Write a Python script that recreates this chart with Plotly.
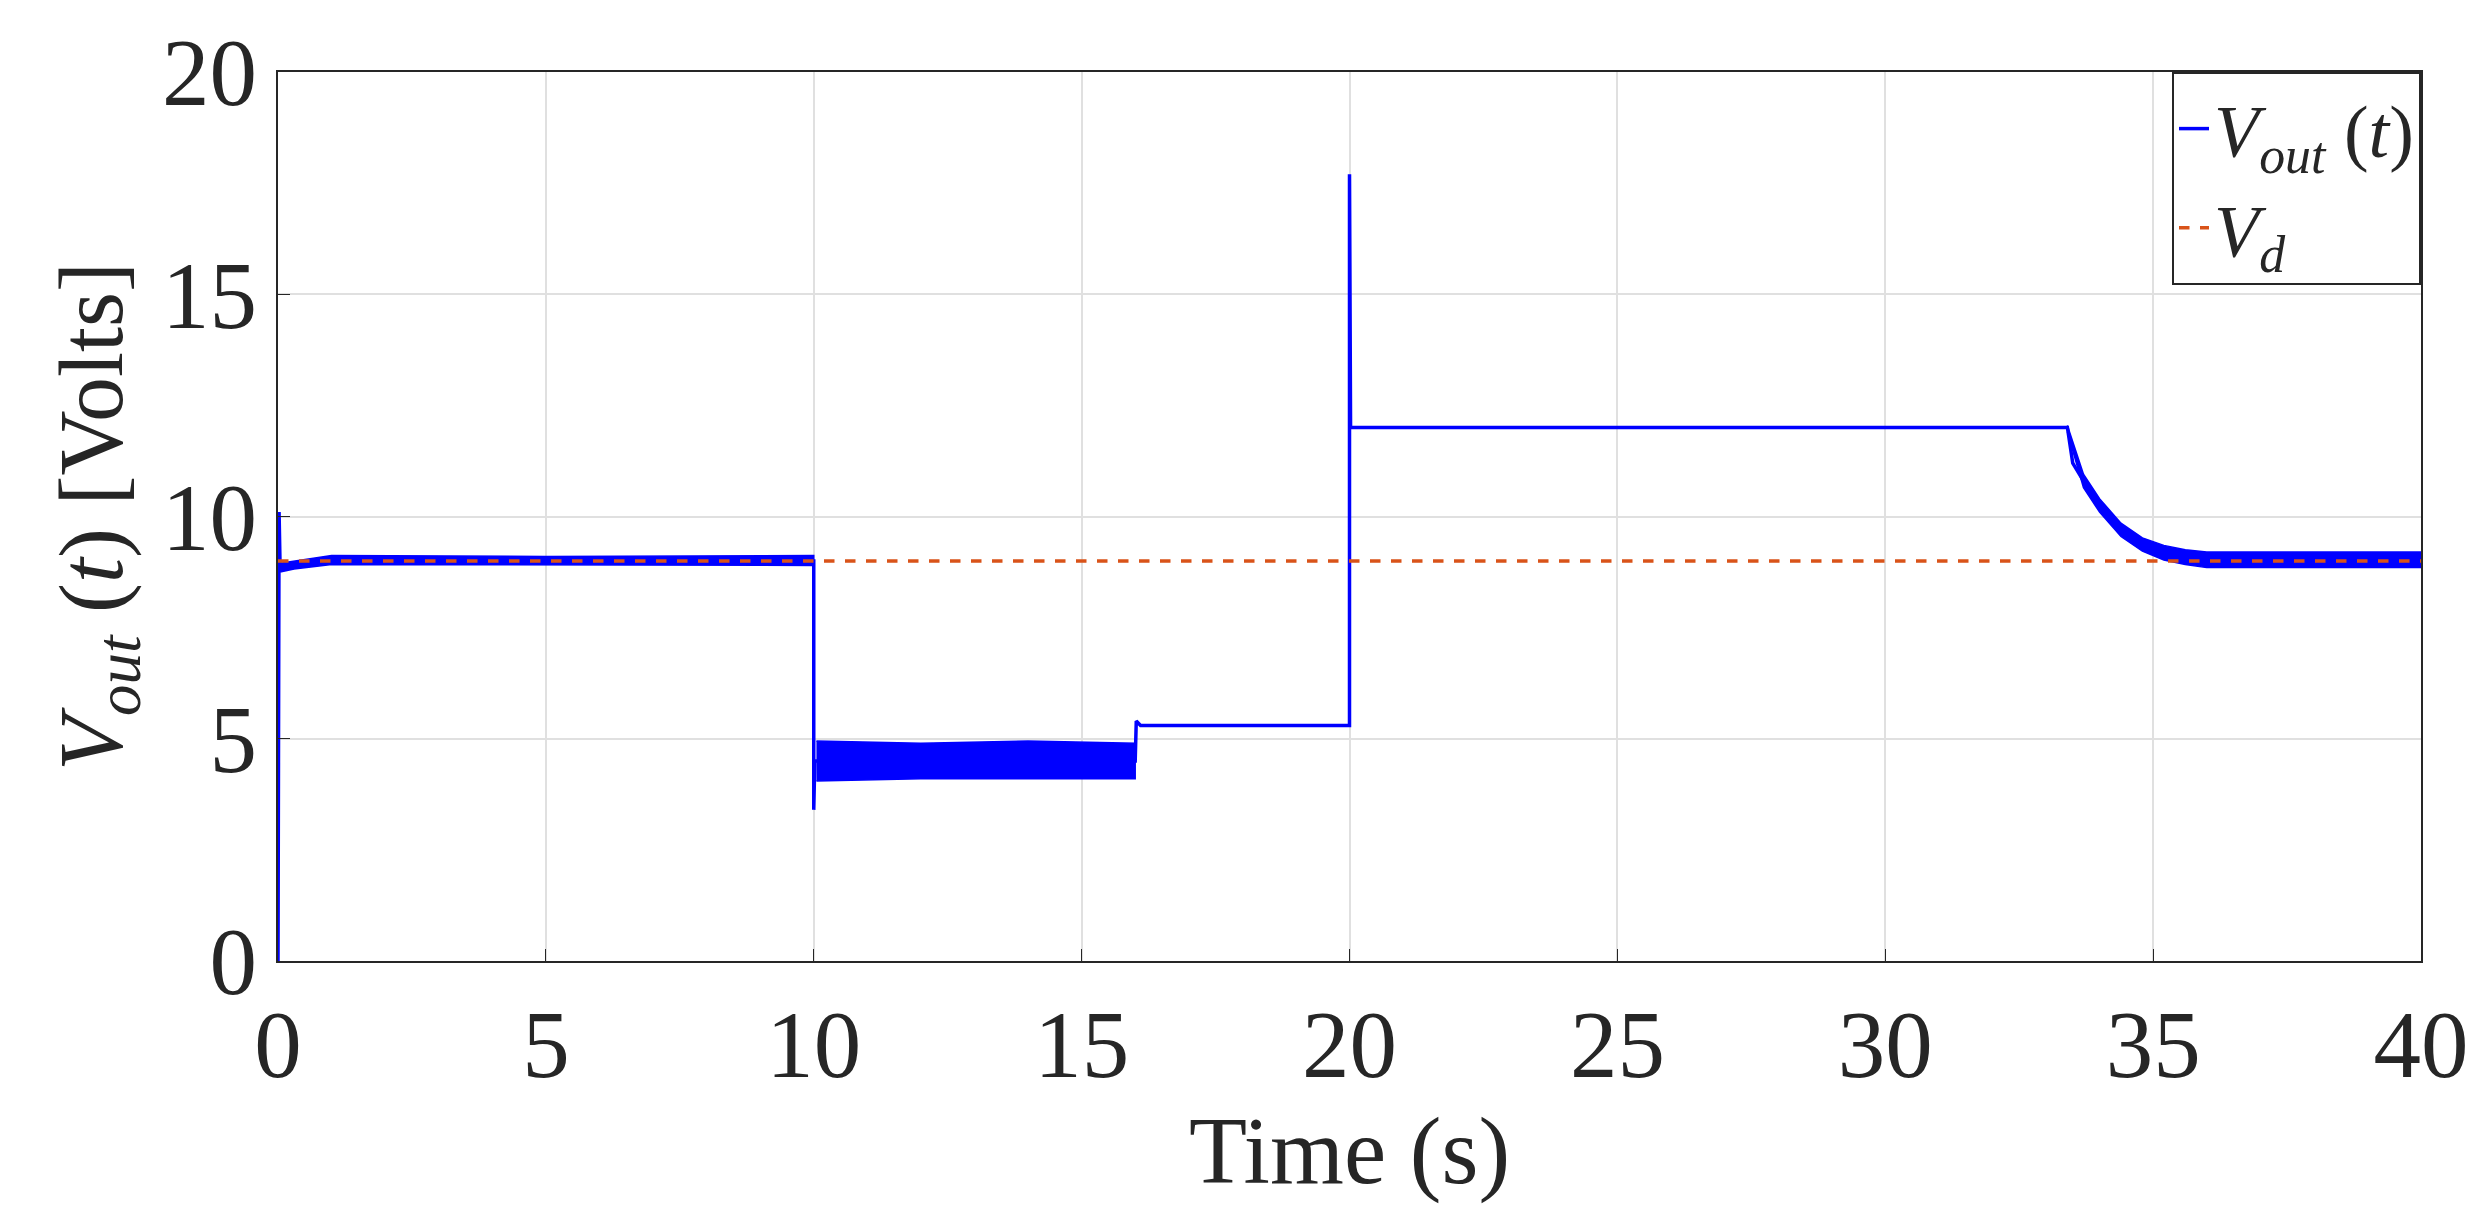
import plotly.graph_objects as go

# main response (clean portions), seconds / volts
t_main = [0, 0.0, 0.02, 0.04, 0.1, 0.3, 0.6, 1.0, 10.0, 10.0, 10.02, 10.05, 16.0, 16.02, 16.1, 20.0, 20.0, 20.02, 20.05, 33.4, 33.5, 33.7, 33.85, 34.0, 34.2, 34.4, 34.6, 34.8, 35.0, 35.3, 35.6, 36.0, 37.0, 40.0]
v_main = [0, 0.0, 10.1, 8.8, 8.85, 8.9, 8.95, 9.0, 9.0, 3.4, 4.5, 4.5, 4.5, 5.4, 5.3, 5.3, 17.7, 12.0, 12.0, 12.0, 11.2, 10.8, 10.5, 10.25, 9.95, 9.7, 9.5, 9.38, 9.28, 9.17, 9.1, 9.05, 9.0, 9.0]

# ripple envelopes (upper / lower) in noisy segments
t_band1 = [0.04, 0.3, 1.0, 5.0, 10.0]
up_band1 = [8.95, 9.0, 9.12, 9.1, 9.12]
lo_band1 = [8.75, 8.82, 8.92, 8.92, 8.9]
t_band2 = [10.05, 12.0, 14.0, 16.0]
up_band2 = [4.95, 4.9, 4.95, 4.9]
lo_band2 = [4.05, 4.1, 4.1, 4.1]
t_band3 = [33.4, 33.7, 34.0, 34.4, 34.8, 35.2, 35.6, 36.0, 40.0]
up_band3 = [12.05, 10.95, 10.4, 9.85, 9.52, 9.35, 9.25, 9.2, 9.2]
lo_band3 = [11.9, 10.65, 10.1, 9.55, 9.22, 9.02, 8.92, 8.85, 8.85]

t_ref = [0, 40]
v_ref = [9, 9]

blue = "#0000FF"
fig = go.Figure()
for tb, ub, lb in [(t_band1, up_band1, lo_band1), (t_band2, up_band2, lo_band2), (t_band3, up_band3, lo_band3)]:
    fig.add_trace(go.Scatter(x=tb + tb[::-1], y=ub + lb[::-1], fill="toself", fillcolor=blue,
                             line=dict(color=blue, width=1.5), mode="lines", showlegend=False, hoverinfo="skip"))
fig.add_trace(go.Scatter(x=t_main, y=v_main, mode="lines", line=dict(color=blue, width=3.5),
                         name="<i>V</i><sub><i>out</i></sub> (<i>t</i>)"))
fig.add_trace(go.Scatter(x=t_ref, y=v_ref, mode="lines", line=dict(color="#D95319", width=3.5, dash="dash"),
                         name="<i>V</i><sub><i>d</i></sub>"))

axis_common = dict(showline=True, linecolor="#262626", linewidth=2, mirror=True, showgrid=True,
                   gridcolor="#E0E0E0", gridwidth=1.5, ticks="inside", ticklen=12, tickcolor="#262626",
                   zeroline=False, tickfont=dict(family="Liberation Serif", size=95, color="#262626"))
fig.update_layout(
    width=2484, height=1211, paper_bgcolor="white", plot_bgcolor="white",
    margin=dict(l=270, r=71, t=52, b=258),
    font=dict(family="Liberation Serif", color="#262626"),
    xaxis=dict(range=[0, 40], tickvals=[0, 5, 10, 15, 20, 25, 30, 35, 40],
               title=dict(text="Time (s)", font=dict(size=95), standoff=15), **axis_common),
    yaxis=dict(range=[0, 20], tickvals=[0, 5, 10, 15, 20],
               title=dict(text="<i>V</i><sub><i>out</i></sub> (<i>t</i>) [Volts]", font=dict(size=90), standoff=10), **axis_common),
    legend=dict(x=1, y=1, xanchor="right", yanchor="top", bgcolor="white", bordercolor="#262626",
                borderwidth=2, font=dict(size=74, family="Liberation Serif")),
)
fig.write_html("out.html")
